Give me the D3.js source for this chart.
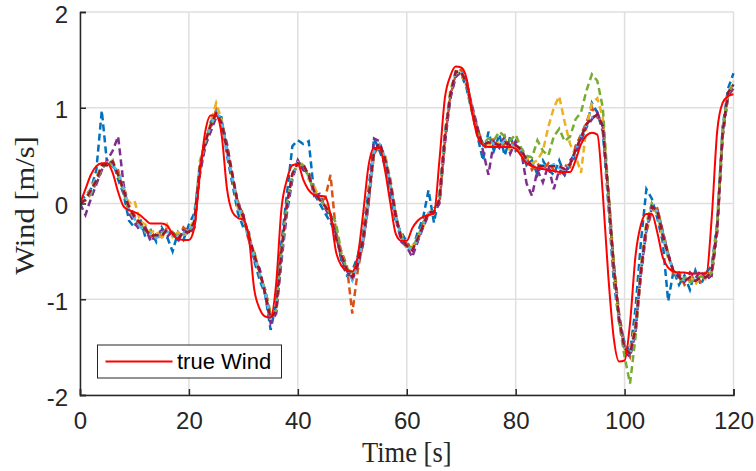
<!DOCTYPE html>
<html><head><meta charset="utf-8">
<script src="https://cdn.jsdelivr.net/npm/d3@7"></script>
<style>html,body{margin:0;padding:0;background:#fff;}</style>
</head><body>
<svg id="chart" width="756" height="471"></svg>
<script>
// ---- data ----
const time = d3.range(0, 121, 1);
const xTicks = [0, 20, 40, 60, 80, 100, 120];
const yTicks = [-2, -1, 0, 1, 2];
const trueWind = [
  0.00, 0.15, 0.30, 0.39, 0.42, 0.42, 0.32, 0.12, -0.03, -0.07,
  -0.09, -0.12, -0.17, -0.21, -0.21, -0.21, -0.23, -0.32, -0.37, -0.38,
  -0.38, -0.25, 0.30, 0.75, 0.92, 0.92, 0.72, 0.15, -0.09, -0.15,
  -0.17, -0.35, -0.90, -1.10, -1.18, -1.19, -0.85, -0.05, 0.25, 0.40,
  0.41, 0.25, 0.14, 0.09, 0.08, 0.07, -0.12, -0.50, -0.65, -0.70,
  -0.71, -0.55, -0.10, 0.40, 0.58, 0.58, 0.35, 0.00, -0.32, -0.39,
  -0.39, -0.26, -0.18, -0.14, -0.12, -0.10, 0.45, 1.10, 1.33, 1.43,
  1.42, 1.30, 0.95, 0.70, 0.61, 0.59, 0.59, 0.59, 0.59, 0.59,
  0.57, 0.50, 0.42, 0.39, 0.37, 0.36, 0.35, 0.34, 0.33, 0.33,
  0.33, 0.45, 0.62, 0.71, 0.74, 0.72, 0.10, -0.75, -1.40, -1.65,
  -1.64, -1.25, -0.55, -0.22, -0.11, -0.11, -0.30, -0.56, -0.67, -0.71,
  -0.72, -0.72, -0.73, -0.73, -0.73, -0.73, -0.15, 0.75, 1.05, 1.12, 1.14
];
const estBlue = [
  0.02, 0.08, 0.15, 0.35, 0.97, 0.40, 0.45, 0.25, 0.10, -0.18,
  -0.25, -0.15, -0.35, -0.28, -0.40, -0.25, -0.35, -0.50, -0.30, -0.38,
  -0.22, -0.10, 0.35, 0.60, 0.85, 0.92, 0.90, 0.50, 0.20, -0.10,
  -0.25, -0.30, -0.60, -0.80, -0.95, -1.32, -1.05, -0.40, 0.10, 0.60,
  0.66, 0.62, 0.65, 0.10, 0.00, -0.10, -0.20, -0.30, -0.60, -0.75,
  -0.70, -0.55, -0.30, 0.15, 0.68, 0.55, 0.40, 0.10, -0.20, -0.30,
  -0.40, -0.50, -0.30, -0.15, 0.14, -0.20, 0.10, 0.75, 1.10, 1.35,
  1.35, 1.20, 0.95, 0.70, 0.45, 0.75, 0.55, 0.72, 0.50, 0.70,
  0.55, 0.60, 0.40, 0.45, 0.30, 0.45, 0.35, 0.30, 0.45, 0.30,
  0.40, 0.50, 0.65, 0.80, 1.05, 0.95, 0.75, 0.00, -0.80, -1.25,
  -1.45, -1.55, -1.10, -0.40, 0.15, 0.05, -0.15, -0.40, -1.02, -0.70,
  -0.85, -0.75, -0.90, -0.70, -0.85, -0.72, -0.65, -0.20, 0.80, 1.20, 1.36
];
const estOrange = [
  0.00, 0.03, 0.10, 0.22, 0.35, 0.45, 0.38, 0.35, 0.12, -0.02,
  -0.12, -0.25, -0.25, -0.35, -0.30, -0.35, -0.25, -0.30, -0.38, -0.25,
  -0.30, -0.25, 0.38, 0.68, 0.78, 0.98, 0.80, 0.58, 0.25, 0.02,
  -0.12, -0.40, -0.50, -0.75, -0.90, -1.15, -1.15, -0.55, 0.00, 0.28,
  0.45, 0.35, 0.32, 0.15, 0.02, 0.05, 0.30, -0.30, -0.50, -0.65,
  -1.15, -0.70, -0.40, 0.00, 0.52, 0.60, 0.50, 0.25, -0.10, -0.38,
  -0.42, -0.45, -0.40, -0.20, -0.12, -0.05, 0.00, 0.65, 1.12, 1.35,
  1.40, 1.28, 1.00, 0.78, 0.62, 0.60, 0.68, 0.58, 0.62, 0.65,
  0.60, 0.52, 0.48, 0.35, 0.42, 0.35, 0.42, 0.35, 0.30, 0.40,
  0.38, 0.60, 0.72, 0.85, 1.00, 0.90, 0.85, 0.15, -0.60, -1.15,
  -1.48, -1.60, -1.35, -0.75, -0.30, -0.08, -0.05, -0.28, -0.52, -0.75,
  -0.72, -0.85, -0.80, -0.75, -0.82, -0.70, -0.75, -0.30, 0.70, 1.12, 1.20
];
const estYellow = [
  0.00, 0.06, 0.15, 0.28, 0.40, 0.40, 0.45, 0.30, 0.18, 0.00,
  0.03, -0.18, -0.22, -0.30, -0.28, -0.38, -0.22, -0.35, -0.30, -0.35,
  -0.25, -0.18, 0.45, 0.62, 0.85, 1.05, 0.88, 0.60, 0.30, -0.05,
  -0.18, -0.32, -0.52, -0.70, -0.95, -1.20, -1.08, -0.48, -0.05, 0.32,
  0.40, 0.42, 0.25, 0.18, 0.05, 0.00, -0.10, -0.38, -0.52, -0.70,
  -0.75, -0.60, -0.35, 0.10, 0.55, 0.58, 0.52, 0.22, -0.18, -0.32,
  -0.48, -0.45, -0.35, -0.25, -0.08, -0.10, 0.08, 0.72, 1.18, 1.38,
  1.36, 1.22, 0.95, 0.72, 0.62, 0.62, 0.58, 0.65, 0.68, 0.55,
  0.65, 0.50, 0.48, 0.42, 0.45, 0.55, 0.80, 1.00, 1.12, 0.85,
  0.62, 0.50, 0.32, 0.80, 1.05, 1.10, 0.90, 0.05, -0.70, -1.22,
  -1.52, -1.55, -1.25, -0.65, -0.20, 0.00, -0.12, -0.35, -0.58, -0.68,
  -0.80, -0.78, -0.75, -0.85, -0.75, -0.80, -0.70, -0.22, 0.78, 1.15, 1.28
];
const estPurple = [
  0.00, -0.12, 0.05, 0.20, 0.35, 0.45, 0.55, 0.70, 0.20, -0.10,
  -0.20, -0.28, -0.25, -0.40, -0.32, -0.28, -0.35, -0.28, -0.40, -0.28,
  -0.32, -0.25, 0.30, 0.60, 0.75, 0.90, 0.85, 0.62, 0.30, 0.00,
  -0.12, -0.38, -0.58, -0.68, -0.95, -1.25, -1.15, -0.60, -0.10, 0.25,
  0.45, 0.35, 0.32, 0.08, 0.10, -0.05, -0.15, -0.32, -0.58, -0.70,
  -0.80, -0.65, -0.42, 0.00, 0.68, 0.65, 0.45, 0.18, -0.15, -0.40,
  -0.45, -0.56, -0.40, -0.25, -0.12, -0.10, 0.00, 0.62, 1.10, 1.32,
  1.38, 1.25, 1.02, 0.80, 0.55, 0.30, 0.65, 0.58, 0.70, 0.52,
  0.65, 0.55, 0.21, 0.08, 0.35, 0.22, 0.40, 0.15, 0.35, 0.30,
  0.45, 0.52, 0.68, 0.80, 0.88, 0.95, 0.80, 0.12, -0.68, -1.18,
  -1.55, -1.60, -1.35, -0.72, -0.28, -0.05, -0.05, -0.30, -0.52, -0.72,
  -0.75, -0.82, -0.72, -0.78, -0.70, -0.80, -0.75, -0.30, 0.70, 1.12, 1.22
];
const estGreen = [
  0.00, 0.04, 0.10, 0.24, 0.36, 0.44, 0.40, 0.30, 0.12, -0.08,
  -0.15, -0.20, -0.30, -0.30, -0.36, -0.30, -0.30, -0.30, -0.35, -0.32,
  -0.28, -0.22, 0.38, 0.64, 0.82, 0.93, 0.86, 0.55, 0.26, -0.02,
  -0.15, -0.35, -0.55, -0.74, -0.90, -1.16, -1.12, -0.50, 0.00, 0.30,
  0.42, 0.40, 0.28, 0.12, 0.06, -0.04, -0.10, -0.20, -0.52, -0.68,
  -0.72, -0.60, -0.38, 0.05, 0.55, 0.60, 0.48, 0.20, -0.12, -0.35,
  -0.45, -0.46, -0.36, -0.20, -0.10, -0.08, 0.05, 0.70, 1.15, 1.36,
  1.37, 1.25, 0.98, 0.75, 0.62, 0.68, 0.66, 0.75, 0.70, 0.66,
  0.72, 0.58, 0.50, 0.48, 0.66, 0.55, 0.50, 0.70, 0.78, 0.65,
  0.70, 0.88, 0.95, 1.18, 1.35, 1.28, 1.00, 0.15, -0.62, -1.25,
  -1.60, -1.88, -1.40, -0.68, -0.22, 0.00, -0.10, -0.30, -0.55, -0.70,
  -0.80, -0.78, -0.82, -0.80, -0.76, -0.78, -0.72, -0.25, 0.72, 1.15, 1.25
];
const estLightBlue = [
  0.00, 0.06, 0.12, 0.26, 0.38, 0.43, 0.40, 0.33, 0.16, -0.06,
  -0.16, -0.24, -0.30, -0.31, -0.36, -0.30, -0.29, -0.33, -0.36, -0.31,
  -0.27, -0.21, 0.40, 0.66, 0.80, 0.96, 0.86, 0.54, 0.27, -0.03,
  -0.16, -0.36, -0.56, -0.73, -0.93, -1.22, -1.10, -0.52, -0.03, 0.30,
  0.43, 0.40, 0.30, 0.12, 0.05, -0.02, -0.12, -0.35, -0.55, -0.68,
  -0.80, -0.62, -0.38, 0.05, 0.56, 0.62, 0.48, 0.20, -0.15, -0.35,
  -0.45, -0.48, -0.38, -0.22, -0.10, -0.08, 0.05, 0.70, 1.15, 1.37,
  1.38, 1.25, 0.98, 0.75, 0.60, 0.66, 0.62, 0.60, 0.66, 0.60,
  0.62, 0.55, 0.44, 0.40, 0.37, 0.40, 0.38, 0.41, 0.37, 0.35,
  0.42, 0.55, 0.70, 0.82, 0.90, 0.92, 0.82, 0.10, -0.65, -1.20,
  -1.50, -1.58, -1.30, -0.70, -0.25, -0.02, -0.08, -0.32, -0.55, -0.70,
  -0.78, -0.80, -0.78, -0.80, -0.78, -0.76, -0.72, -0.25, 0.75, 1.15, 1.25
];
const estDarkRed = [
  0.00, 0.04, 0.14, 0.24, 0.40, 0.40, 0.44, 0.30, 0.14, -0.04,
  -0.14, -0.20, -0.27, -0.34, -0.33, -0.34, -0.27, -0.31, -0.37, -0.29,
  -0.30, -0.19, 0.38, 0.64, 0.82, 0.94, 0.84, 0.56, 0.29, -0.01,
  -0.14, -0.34, -0.54, -0.71, -0.94, -1.20, -1.12, -0.49, -0.01, 0.31,
  0.42, 0.41, 0.29, 0.13, 0.04, -0.03, -0.11, -0.36, -0.54, -0.69,
  -0.77, -0.63, -0.37, 0.06, 0.54, 0.63, 0.47, 0.21, -0.14, -0.36,
  -0.44, -0.49, -0.37, -0.23, -0.09, -0.09, 0.04, 0.69, 1.14, 1.38,
  1.37, 1.26, 0.97, 0.76, 0.61, 0.64, 0.63, 0.61, 0.64, 0.61,
  0.61, 0.56, 0.46, 0.39, 0.39, 0.39, 0.39, 0.39, 0.39, 0.36,
  0.41, 0.56, 0.69, 0.83, 0.89, 0.93, 0.81, 0.11, -0.66, -1.21,
  -1.51, -1.57, -1.31, -0.71, -0.24, -0.03, -0.07, -0.33, -0.54, -0.71,
  -0.77, -0.81, -0.77, -0.81, -0.77, -0.77, -0.71, -0.26, 0.74, 1.16, 1.24
];
const estimates = [estBlue, estOrange, estYellow, estPurple, estGreen, estLightBlue, estDarkRed];
const estColors = ["#0072BD", "#D95319", "#EDB120", "#7E2F8E", "#77AC30", "#4DBEEE", "#A2142F"];
const legendLabels = ["true Wind"];

// ---- drawing ----
const svg = d3.select("#chart");
const x = d3.scaleLinear().domain([0, 120]).range([80, 733.5]);
const y = d3.scaleLinear().domain([-2, 2]).range([395, 12]);
const axisColor = "#262626";

// grid
const grid = svg.append("g");
grid.selectAll("line.gx").data(xTicks).join("line")
  .attr("x1", d => x(d)).attr("x2", d => x(d)).attr("y1", y(-2)).attr("y2", y(2))
  .attr("stroke", "#dfdfdf").attr("stroke-width", 1.5);
grid.selectAll("line.gy").data(yTicks).join("line")
  .attr("x1", x(0)).attr("x2", x(120)).attr("y1", d => y(d)).attr("y2", d => y(d))
  .attr("stroke", "#dfdfdf").attr("stroke-width", 1.5);

// clip
svg.append("clipPath").attr("id", "clip").append("rect")
  .attr("x", x(0)).attr("y", y(2) - 2).attr("width", x(120) - x(0) + 2).attr("height", y(-2) - y(2) + 2);

const line = d3.line().x((d, i) => x(time[i])).y(d => y(d));
const plot = svg.append("g").attr("clip-path", "url(#clip)");
estimates.forEach((s, k) => {
  plot.append("path").datum(s).attr("d", line)
    .attr("fill", "none").attr("stroke", estColors[k]).attr("stroke-width", 2.5)
    .attr("stroke-dasharray", "7,4");
});
const smooth = d3.line().x((d, i) => x(time[i])).y(d => y(d)).curve(d3.curveMonotoneX);
plot.append("path").datum(trueWind).attr("d", smooth)
  .attr("fill", "none").attr("stroke", "#FF0000").attr("stroke-width", 2);

// axes
const fmt = d => String(d);
const xAxis = d3.axisBottom(x).tickValues(xTicks).tickSize(-6).tickPadding(17).tickFormat(fmt);
const yAxis = d3.axisLeft(y).tickValues(yTicks).tickSize(-6).tickPadding(12).tickFormat(fmt);
const gx = svg.append("g").attr("transform", `translate(0,${y(-2)})`).call(xAxis);
const gy = svg.append("g").attr("transform", `translate(${x(0)},0)`).call(yAxis);
[gx, gy].forEach(g => {
  g.select(".domain").attr("stroke", axisColor).attr("stroke-width", 1.5);
  g.selectAll(".tick line").attr("stroke", axisColor).attr("stroke-width", 1.5);
  g.selectAll(".tick text").attr("fill", axisColor)
    .style("font-family", "'Liberation Sans', Arial, sans-serif").style("font-size", "24px");
});
gy.selectAll(".tick text").attr("dy", "0.42em");

// axis labels
svg.append("text").attr("transform", `translate(${(x(0) + x(120)) / 2},462) scale(1,1.15)`)
  .attr("text-anchor", "middle").attr("fill", axisColor)
  .style("font-family", "'Liberation Serif', 'Times New Roman', serif").style("font-size", "26.5px")
  .text("Time [s]");
svg.append("text").attr("transform", `translate(34,${(y(-2) + y(2)) / 2 + 2}) rotate(-90) scale(1.15,1)`)
  .attr("text-anchor", "middle").attr("fill", axisColor)
  .style("font-family", "'Liberation Serif', 'Times New Roman', serif").style("font-size", "26.5px")
  .text("Wind [m/s]");

// legend
const lg = svg.append("g");
lg.append("rect").attr("x", 97.5).attr("y", 345).attr("width", 184).attr("height", 33)
  .attr("fill", "#fff").attr("stroke", axisColor).attr("stroke-width", 1);
lg.append("line").attr("x1", 105.5).attr("x2", 172.5).attr("y1", 361.5).attr("y2", 361.5)
  .attr("stroke", "#FF0000").attr("stroke-width", 2);
lg.append("text").attr("x", 177).attr("y", 369).attr("fill", "#000")
  .style("font-family", "'Liberation Sans', Arial, sans-serif").style("font-size", "22px")
  .text(legendLabels[0]);
</script>
</body></html>
